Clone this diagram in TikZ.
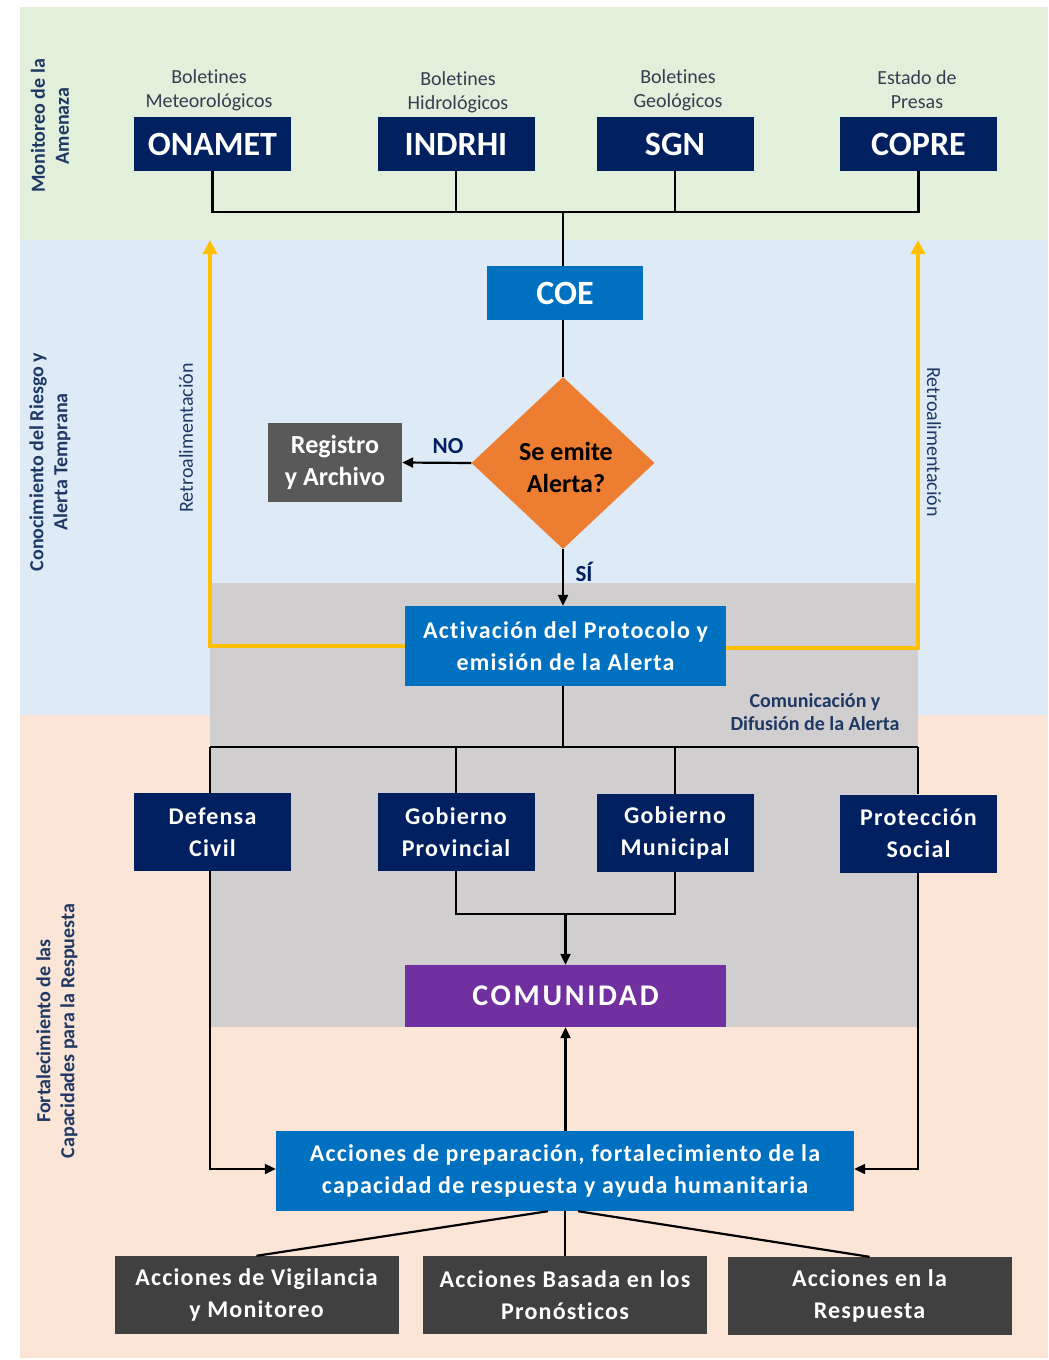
\documentclass[tikz,border=0pt]{standalone}
\usepackage{fontspec}
\setmainfont{Carlito}[Ligatures=NoCommon]
\usetikzlibrary{shapes.geometric,arrows.meta,calc}
\definecolor{bandgreen}{HTML}{E2EFDA}
\definecolor{bandblue}{HTML}{DEEBF7}
\definecolor{bandpeach}{HTML}{FBE5D6}
\definecolor{zonegray}{HTML}{D0CECE}
\definecolor{navy}{HTML}{002060}
\definecolor{boxblue}{HTML}{0070C0}
\definecolor{orng}{HTML}{ED7D31}
\definecolor{purp}{HTML}{7030A0}
\definecolor{darkgray}{HTML}{595959}
\definecolor{darkergray}{HTML}{404040}
\definecolor{fbyellow}{HTML}{FFC000}
\definecolor{labtext}{HTML}{1F3864}
\definecolor{toptext}{HTML}{333F50}
\newcommand\widefont{\bfseries\addfontfeature{LetterSpace=5}\fontsize{24bp}{32bp}\selectfont}
\begin{document}
\begin{tikzpicture}[x=1bp,y=-1bp,
  box/.style={draw=none, inner sep=0pt, align=center, text=white},
  topbox/.style={box, fill=navy, minimum width=157bp, minimum height=54bp,
    font=\bfseries\fontsize{34bp}{40bp}\selectfont},
  navybox/.style={box, fill=navy, minimum width=157bp, minimum height=78bp, font=\widefont},
  bluebox/.style={box, fill=boxblue, font=\widefont},
  graybox/.style={box, fill=darkergray, minimum width=284bp, minimum height=78bp, font=\widefont},
  toplabel/.style={align=center, text=toptext, inner sep=0pt, font=\fontsize{20bp}{24bp}\selectfont},
  sidelabel/.style={align=center, text=labtext, inner sep=0pt, font=\bfseries\fontsize{20bp}{24bp}\selectfont, rotate=90},
  retro/.style={text=labtext, inner sep=0pt, font=\fontsize{20bp}{24bp}\selectfont},
  yesno/.style={text=navy, inner sep=0pt, font=\bfseries\fontsize{23bp}{26bp}\selectfont},
  conn/.style={draw=black, line width=2.2bp},
  arr/.style={conn, -{Triangle[length=11bp,width=10bp]}},
  fb/.style={draw=fbyellow, line width=4bp, -{Triangle[length=14bp,width=14bp]}}
]
\useasboundingbox (0,0) rectangle (1048,1360);
\fill[white] (0,0) rectangle (1048,1360);
% bands
\fill[bandgreen] (20,7) rectangle (1048,240);
\fill[bandblue] (20,240) rectangle (1048,715);
\fill[bandpeach] (20,715) rectangle (1048,1358);
\fill[zonegray] (210,583) rectangle (918,1027);

% side labels
\node[sidelabel] (lab1) at (50,126) {Monitoreo de la\\Amenaza};
\node[sidelabel] (lab2) at (50,462) {Conocimiento del Riesgo y\\Alerta Temprana};
\node[sidelabel] (lab3) at (57,1031) {Fortalecimiento de las\\Capacidades para la Respuesta};

% top boxes
\node[topbox] (onamet) at (212.5,144) {ONAMET};
\node[topbox] (indrhi) at (456,144) {INDRHI};
\node[topbox] (sgn) at (675,144) {SGN};
\node[topbox] (copre) at (918.5,144) {COPRE};
\node[toplabel] (lonamet) at (209,90) {Boletines\\Meteorológicos};
\node[toplabel] (lindrhi) at (458,92) {Boletines\\Hidrológicos};
\node[toplabel] (lsgn) at (678,90) {Boletines\\Geológicos};
\node[toplabel] (lcopre) at (917,90) {Estado de\\Presas};

% COE and decision
\node[box, fill=boxblue, minimum width=156bp, minimum height=54bp,
  font=\bfseries\fontsize{34bp}{40bp}\selectfont] (coe) at (565,293) {COE};
\node[diamond, fill=orng, inner sep=0pt, minimum width=183bp, minimum height=172bp] (dec) at (563,463) {};
\node[inner sep=0pt, align=center, text=black, font=\bfseries\fontsize{26bp}{32bp}\selectfont] (dect) at (566,467) {Se emite\\Alerta?};
\node[box, fill=darkgray, minimum width=134bp, minimum height=79bp,
  font=\bfseries\fontsize{26bp}{32bp}\selectfont] (reg) at (335,462.5) {Registro\\y Archivo};
\node[bluebox, minimum width=321bp, minimum height=80bp] (act) at (565.5,646) {Activación del Protocolo y\\emisión de la Alerta};

% response actors
\node[navybox] (def) at (212.5,832) {Defensa\\Civil};
\node[navybox] (prov) at (456,832) {Gobierno\\Provincial};
\node[navybox] (mun) at (675,833) {Gobierno\\Municipal};
\node[navybox] (prot) at (918.5,833.5) {Protección\\Social};
\node[box, fill=purp, minimum width=321bp, minimum height=62bp,
  font=\bfseries\addfontfeature{LetterSpace=9}\fontsize{30bp}{36bp}\selectfont] (com) at (565.5,996) {COMUNIDAD};
\node[bluebox, minimum width=578bp, minimum height=80bp] (acc) at (565,1171) {Acciones de preparación, fortalecimiento de la\\capacidad de respuesta y ayuda humanitaria};
\node[graybox] (vig) at (256.5,1295) {Acciones de Vigilancia\\y Monitoreo};
\node[graybox] (pron) at (565,1295) {Acciones Basada en los\\Pronósticos};
\node[graybox] (resp) at (869.5,1296) {Acciones en la\\Respuesta};

% labels
\node[yesno] (no) at (448,446) {NO};
\node[yesno] (si) at (584,572) {SÍ};
\node[retro, rotate=90] (retl) at (186,438) {Retroalimentación};
\node[retro, rotate=-90] (retr) at (934,442) {Retroalimentación};
\node[align=center, text=labtext, inner sep=0pt, font=\bfseries\fontsize{20bp}{23bp}\selectfont] (comlab) at (815,712) {Comunicación y\\Difusión de la Alerta};

% coordinates
\coordinate (bus) at (563,212);
\coordinate (bus2) at (563,747);
\coordinate (join) at (565.5,914);
\coordinate (fbl) at (210,240);
\coordinate (fbr) at (918,240);

% top connectors
\draw[conn] (onamet.south) |- (bus) -| (copre.south);
\draw[conn] (indrhi.south) -- (indrhi.south |- bus);
\draw[conn] (sgn.south) -- (sgn.south |- bus);
\draw[conn] (bus) -- (bus |- coe.north);
\draw[conn] (coe.south -| bus) -- (dec.north);
\draw[arr] (dec.west) -- (reg.east);
\draw[arr] (dec.south) -- (dec.south |- act.north);

% feedback
\draw[fb] (act.west) -| (fbl);
\draw[fb] ([yshift=-2bp]act.east) -| (fbr);

% distribution
\draw[conn] (act.south -| bus2) -- (bus2);
\draw[conn] (bus2 -| fbl) -- (bus2 -| fbr);
\draw[conn] (bus2 -| fbl) -- (def.north -| fbl);
\draw[conn] (bus2 -| fbr) -- (prot.north -| fbr);
\draw[conn] (prov.north) -- (prov.north |- bus2);
\draw[conn] (mun.north) -- (mun.north |- bus2);
\draw[conn] (prov.south) |- (join) -| (mun.south);
\draw[arr] (join) -- (com.north);
\draw[arr] (def.south -| fbl) |- ([yshift=2bp]acc.west);
\draw[arr] (prot.south -| fbr) |- ([yshift=2bp]acc.east);
\draw[arr] (acc.north -| com.south) -- (com.south);

% bottom connectors
\draw[conn] ([xshift=-17bp]acc.south) -- (vig.north);
\draw[conn] (acc.south) -- (pron.north);
\draw[conn] ([xshift=13bp]acc.south) -- (resp.north);
\end{tikzpicture}
\end{document}
